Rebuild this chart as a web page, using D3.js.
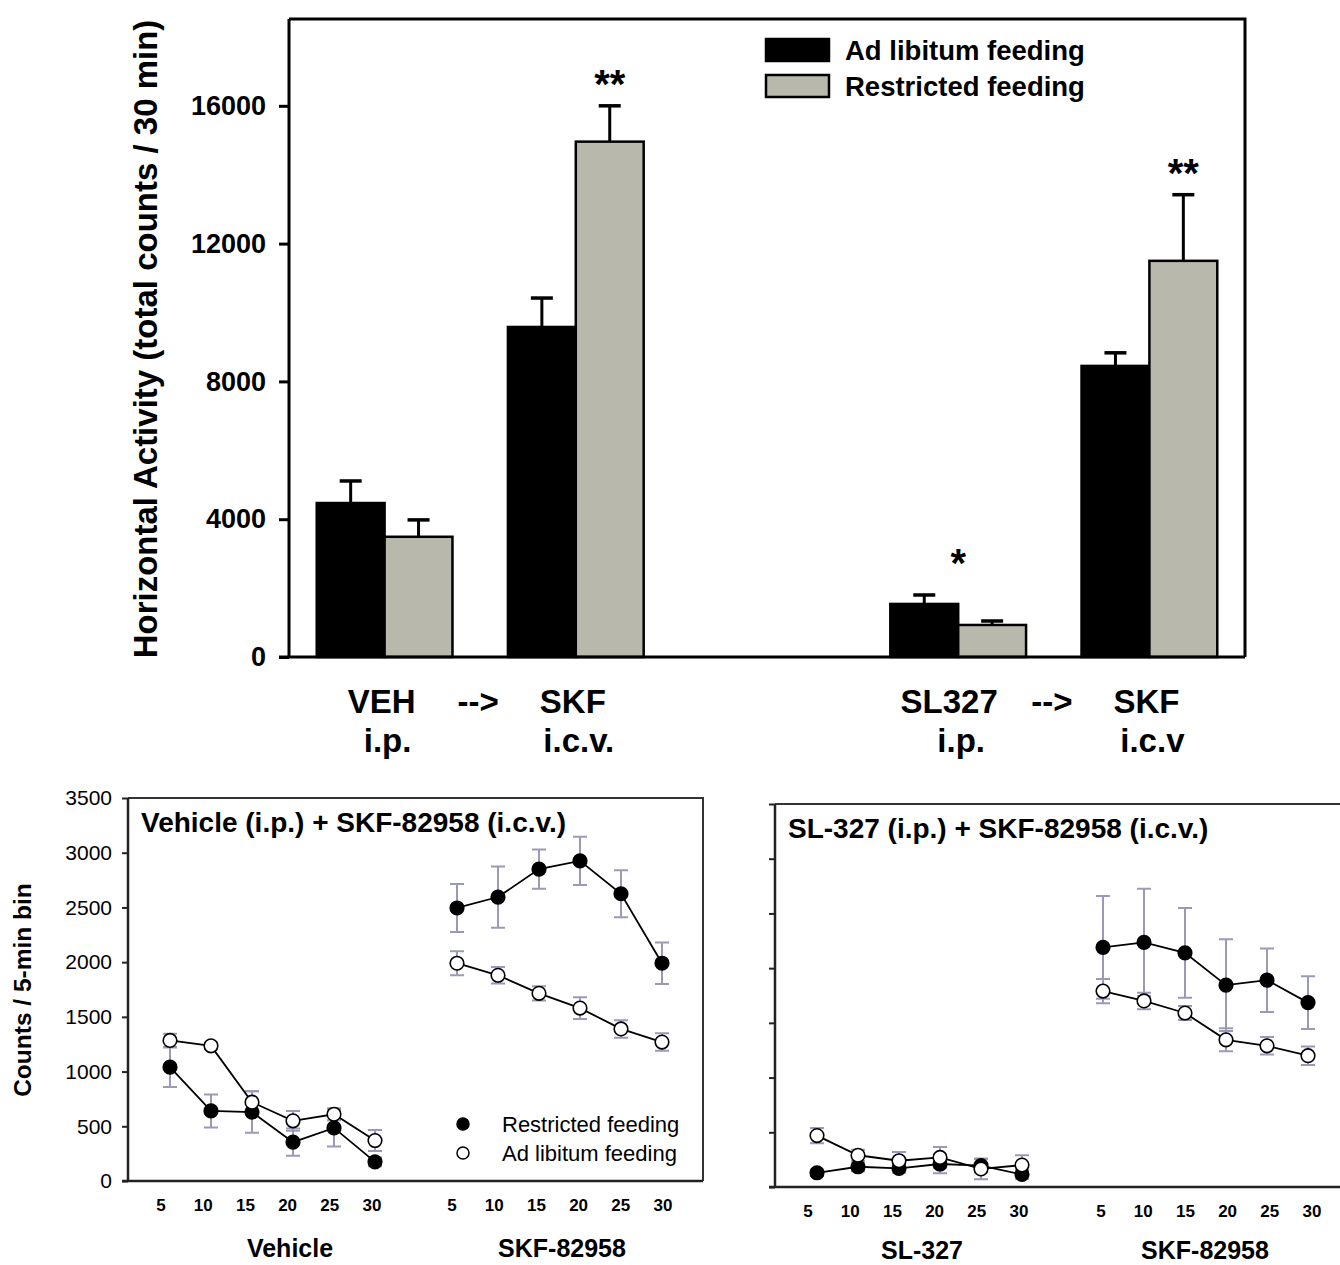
<!DOCTYPE html>
<html lang="en">
<head>
    <meta charset="UTF-8"/>
    <title>Horizontal activity</title>
    <script src="https://d3js.org/d3.v7.min.js"></script>
    <style>
        body { margin: 0; background: #fff; }
        svg { display: block; font-family: "Liberation Sans", Arial, sans-serif; }
    </style>
</head>
<body>
<script>
    // ---- top bar chart data ----
    var groups = ["VEH", "SKF1", "gap", "SL327", "SKF2"];
    var series = ["Ad libitum feeding", "Restricted feeding"];
    var adLibMeans = [4470, 9580, null, 1540, 8450];
    var adLibErr = [640, 840, null, 260, 380];
    var restrictedMeans = [3490, 14960, null, 930, 11500];
    var restrictedErr = [490, 1040, null, 115, 1920];
    var topLine1 = ["VEH", "SKF", "", "SL327", "SKF"];
    var topLine2 = ["i.p.", "i.c.v.", "", "i.p.", "i.c.v"];
    var topTicks = [0, 4000, 8000, 12000, 16000];
    // significance marks: [group, series index (-1 = whole group), label]
    var stars = [["SKF1", 1, "**"], ["SL327", -1, "*"], ["SKF2", 1, "**"]];

    // ---- time course data ----
    var minutes = [5, 10, 15, 20, 25, 30];
    var countTicks = [0, 500, 1000, 1500, 2000, 2500, 3000, 3500];

    var vehRestricted = [1040, 640, 630, 355, 485, 175];
    var vehRestrictedErr = [180, 150, 190, 125, 170, 40];
    var vehAdLib = [1285, 1235, 720, 550, 610, 370];
    var vehAdLibErr = [60, 30, 100, 90, 55, 95];
    var skfRestrictedA = [2495, 2595, 2850, 2925, 2625, 1990];
    var skfRestrictedAErr = [220, 280, 180, 220, 215, 190];
    var skfAdLibA = [1990, 1880, 1715, 1580, 1390, 1270];
    var skfAdLibAErr = [110, 75, 65, 100, 80, 80];

    var slRestricted = [130, 185, 170, 210, 195, 115];
    var slRestrictedErr = [30, 40, 40, 85, 60, 40];
    var slAdLib = [470, 290, 240, 270, 165, 200];
    var slAdLibErr = [70, 50, 80, 95, 95, 90];
    var skfRestrictedB = [2190, 2235, 2140, 1845, 1890, 1685];
    var skfRestrictedBErr = [470, 490, 410, 420, 290, 240];
    var skfAdLibB = [1790, 1700, 1590, 1345, 1290, 1200];
    var skfAdLibBErr = [110, 75, 65, 105, 80, 85];

    var W = 1340, H = 1265;
    var gray = "#b8b8ac";
    var errColor = "#9a9ab8";
    var font = "\"Liberation Sans\", Arial, sans-serif";

    var svg = d3.select("body").append("svg")
        .attr("width", W)
        .attr("height", H);

    // ================= top chart =================
    var tc = { left: 289, right: 1245, top: 19, bottom: 657 };

    var yTop = d3.scaleLinear()
        .domain([0, 18520])
        .range([tc.bottom, tc.top]);

    var xTop = d3.scaleBand()
        .domain(groups)
        .range([tc.left, tc.right])
        .paddingInner(0.29)
        .paddingOuter(0.145);

    var xSub = d3.scaleBand()
        .domain(series)
        .range([0, xTop.bandwidth()]);

    var barData = [];
    groups.forEach(function(g, i) {
        if (adLibMeans[i] === null) return;
        barData.push({ g: g, s: series[0], v: adLibMeans[i], e: adLibErr[i], fill: "#000" });
        barData.push({ g: g, s: series[1], v: restrictedMeans[i], e: restrictedErr[i], fill: gray });
    });

    var topG = svg.append("g");

    function barMid(d) { return xTop(d.g) + xSub(d.s) + xSub.bandwidth() / 2; }

    // error bars (upward only)
    var eb = topG.selectAll("g.err").data(barData).enter().append("g");
    eb.append("line")
        .attr("x1", barMid).attr("x2", barMid)
        .attr("y1", function(d) { return yTop(d.v); })
        .attr("y2", function(d) { return yTop(d.v + d.e); })
        .attr("stroke", "#000").attr("stroke-width", 3);
    eb.append("line")
        .attr("x1", function(d) { return barMid(d) - 11; })
        .attr("x2", function(d) { return barMid(d) + 11; })
        .attr("y1", function(d) { return yTop(d.v + d.e); })
        .attr("y2", function(d) { return yTop(d.v + d.e); })
        .attr("stroke", "#000").attr("stroke-width", 3.5);

    topG.selectAll("rect.bar").data(barData).enter().append("rect")
        .attr("x", function(d) { return xTop(d.g) + xSub(d.s); })
        .attr("y", function(d) { return yTop(d.v); })
        .attr("width", xSub.bandwidth())
        .attr("height", function(d) { return yTop(0) - yTop(d.v); })
        .attr("fill", function(d) { return d.fill; })
        .attr("stroke", "#000")
        .attr("stroke-width", 2.5);

    // stars
    stars.forEach(function(s) {
        var i = groups.indexOf(s[0]);
        var v, x;
        if (s[1] < 0) {
            v = Math.max(adLibMeans[i] + adLibErr[i], restrictedMeans[i] + restrictedErr[i]);
            x = xTop(s[0]) + xTop.bandwidth() / 2;
        } else {
            v = s[1] === 0 ? adLibMeans[i] + adLibErr[i] : restrictedMeans[i] + restrictedErr[i];
            x = xTop(s[0]) + xSub(series[s[1]]) + xSub.bandwidth() / 2;
        }
        topG.append("text")
            .attr("x", x)
            .attr("y", yTop(v) - (s[1] < 0 ? 18 : 8))
            .attr("text-anchor", "middle")
            .attr("font-size", 40)
            .attr("font-weight", "bold")
            .text(s[2]);
    });

    // frame
    topG.append("path")
        .attr("d", "M" + tc.left + "," + tc.top + "H" + tc.right + "V" + tc.bottom)
        .attr("fill", "none").attr("stroke", "#000").attr("stroke-width", 3);
    topG.append("line")
        .attr("x1", tc.left - 10).attr("x2", tc.right)
        .attr("y1", tc.bottom).attr("y2", tc.bottom)
        .attr("stroke", "#000").attr("stroke-width", 3);

    var yAxisTop = topG.append("g")
        .attr("transform", "translate(" + tc.left + ",0)")
        .call(d3.axisLeft(yTop).tickValues(topTicks).tickSize(10).tickPadding(13).tickFormat(d3.format("d")));
    yAxisTop.select(".domain").attr("stroke-width", 3).attr("d", "M0," + tc.top + "V" + tc.bottom);
    yAxisTop.selectAll(".tick line").attr("stroke-width", 3);
    yAxisTop.selectAll(".tick text")
        .attr("font-size", 27).attr("font-weight", "bold").attr("font-family", font).attr("fill", "#000");

    topG.append("text")
        .attr("transform", "translate(157," + 339 + ") rotate(-90)")
        .attr("text-anchor", "middle")
        .attr("font-size", 33)
        .attr("font-weight", "bold")
        .text("Horizontal Activity (total counts / 30 min)");

    // category labels
    groups.forEach(function(g, i) {
        if (!topLine1[i]) return;
        var cx = xTop(g) + xTop.bandwidth() / 2;
        var shift = topLine1[i].length > 3 ? -9 : -3;
        topG.append("text")
            .attr("x", cx + shift).attr("y", 713)
            .attr("text-anchor", "middle").attr("font-size", 33).attr("font-weight", "bold")
            .text(topLine1[i]);
        topG.append("text")
            .attr("x", cx + 3).attr("y", 752)
            .attr("text-anchor", "middle").attr("font-size", 33).attr("font-weight", "bold")
            .text(topLine2[i]);
    });
    [["VEH", "SKF1"], ["SL327", "SKF2"]].forEach(function(p) {
        var x = (xTop(p[0]) + xTop(p[1]) + xTop.bandwidth()) / 2;
        topG.append("text")
            .attr("x", x - 2).attr("y", 713)
            .attr("text-anchor", "middle").attr("font-size", 33).attr("font-weight", "bold")
            .text("-->");
    });

    // legend
    var leg = topG.append("g").attr("transform", "translate(766,39)");
    series.forEach(function(s, i) {
        leg.append("rect")
            .attr("x", 0).attr("y", i * 36)
            .attr("width", 63).attr("height", 22)
            .attr("fill", i === 0 ? "#000" : gray)
            .attr("stroke", "#000").attr("stroke-width", 2.5);
        leg.append("text")
            .attr("x", 79).attr("y", i * 36 + 21)
            .attr("font-size", 27.5).attr("font-weight", "bold")
            .text(s);
    });

    // ================= time course panels =================
    var yCount = d3.scaleLinear().domain([0, 3500]);
    var xMin = d3.scaleLinear().domain([5, 30]).range([0, 205]);
    var xLab = d3.scaleLinear().domain([5, 30]).range([0, 211]);

    function panel(opts) {
        var g = svg.append("g").attr("transform", "translate(" + opts.dx + "," + opts.dy + ")");
        var y = yCount.copy().range([1181, 798]);
        var x0 = 128, x1 = opts.right;

        // frame top/right
        g.append("path")
            .attr("d", "M" + x0 + "," + y(3500) + "H" + x1 + (opts.closed ? "V" + y(0) : ""))
            .attr("fill", "none").attr("stroke", "#333").attr("stroke-width", 2);
        g.append("line")
            .attr("x1", x0 - 6).attr("x2", x1)
            .attr("y1", y(0)).attr("y2", y(0))
            .attr("stroke", "#222").attr("stroke-width", 2.5);

        var ax = g.append("g").attr("transform", "translate(" + x0 + ",0)")
            .call(d3.axisLeft(y).tickValues(countTicks).tickSize(6).tickPadding(10)
                .tickFormat(opts.labels ? d3.format("d") : ""));
        ax.select(".domain").attr("stroke-width", 2.5).attr("stroke", "#222").attr("d", "M0," + y(3500) + "V" + y(0));
        ax.selectAll(".tick line").attr("stroke-width", 2).attr("stroke", "#222");
        ax.selectAll(".tick text").attr("font-size", 21).attr("font-family", font).attr("fill", "#000");

        g.append("text")
            .attr("x", 141).attr("y", 832)
            .attr("font-size", 28).attr("font-weight", "bold")
            .text(opts.title);

        opts.segments.forEach(function(seg) {
            var px = function(m) { return seg.ptX + xMin(m); };
            var sets = [
                { v: seg.restricted, e: seg.restrictedErr, fill: "#000" },
                { v: seg.adLib, e: seg.adLibErr, fill: "#fff" }
            ];
            // error bars
            sets.forEach(function(s) {
                minutes.forEach(function(m, i) {
                    var cx = px(m);
                    var yt = y(s.v[i] + s.e[i]), yb = y(s.v[i] - s.e[i]);
                    g.append("path")
                        .attr("d", "M" + cx + "," + yt + "V" + yb +
                            "M" + (cx - 7) + "," + yt + "H" + (cx + 7) +
                            "M" + (cx - 7) + "," + yb + "H" + (cx + 7))
                        .attr("fill", "none").attr("stroke", errColor).attr("stroke-width", 2);
                });
            });
            sets.forEach(function(s) {
                g.append("path")
                    .datum(minutes.map(function(m, i) { return [px(m), y(s.v[i])]; }))
                    .attr("d", d3.line())
                    .attr("fill", "none").attr("stroke", "#000").attr("stroke-width", 1.8);
                g.selectAll(null).data(minutes).enter().append("circle")
                    .attr("cx", function(m) { return px(m); })
                    .attr("cy", function(m, i) { return y(s.v[i]); })
                    .attr("r", 6.8)
                    .attr("fill", s.fill)
                    .attr("stroke", "#000").attr("stroke-width", 1.6);
            });
            // tick labels
            g.selectAll(null).data(minutes).enter().append("text")
                .attr("x", function(m) { return seg.labX + xLab(m); })
                .attr("y", 1211)
                .attr("text-anchor", "middle")
                .attr("font-size", 17).attr("font-weight", "bold")
                .text(function(m) { return m; });
            g.append("text")
                .attr("x", seg.nameX).attr("y", opts.nameY)
                .attr("text-anchor", "middle")
                .attr("font-size", 25).attr("font-weight", "bold")
                .text(seg.name);
        });

        if (opts.legend) {
            var lg = g.append("g").attr("transform", "translate(463,1124)");
            [["Restricted feeding", "#000"], ["Ad libitum feeding", "#fff"]].forEach(function(l, i) {
                lg.append("circle").attr("cx", 0).attr("cy", i * 29).attr("r", 6)
                    .attr("fill", l[1]).attr("stroke", "#000").attr("stroke-width", 1.5);
                lg.append("text").attr("x", 39).attr("y", i * 29 + 8)
                    .attr("font-size", 22).text(l[0]);
            });
        }
        if (opts.yTitle) {
            g.append("text")
                .attr("transform", "translate(31,990) rotate(-90)")
                .attr("text-anchor", "middle")
                .attr("font-size", 24.5).attr("font-weight", "bold")
                .text(opts.yTitle);
        }
    }

    panel({
        dx: 0, dy: 0, right: 703, closed: true, labels: true, legend: true, nameY: 1257,
        yTitle: "Counts / 5-min bin",
        title: "Vehicle (i.p.) + SKF-82958 (i.c.v.)",
        segments: [
            { name: "Vehicle", nameX: 290, ptX: 170, labX: 161,
              restricted: vehRestricted, restrictedErr: vehRestrictedErr,
              adLib: vehAdLib, adLibErr: vehAdLibErr },
            { name: "SKF-82958", nameX: 562, ptX: 457, labX: 452,
              restricted: skfRestrictedA, restrictedErr: skfRestrictedAErr,
              adLib: skfAdLibA, adLibErr: skfAdLibAErr }
        ]
    });

    panel({
        dx: 647, dy: 6, right: 720, closed: false, labels: false, legend: false, nameY: 1253,
        title: "SL-327 (i.p.) + SKF-82958 (i.c.v.)",
        segments: [
            { name: "SL-327", nameX: 275, ptX: 170, labX: 161,
              restricted: slRestricted, restrictedErr: slRestrictedErr,
              adLib: slAdLib, adLibErr: slAdLibErr },
            { name: "SKF-82958", nameX: 558, ptX: 456, labX: 454,
              restricted: skfRestrictedB, restrictedErr: skfRestrictedBErr,
              adLib: skfAdLibB, adLibErr: skfAdLibBErr }
        ]
    });
</script>
</body>
</html>
